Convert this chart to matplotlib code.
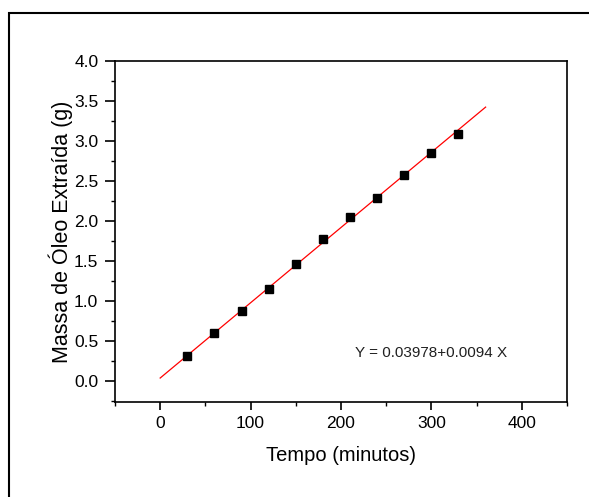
import numpy as np
import matplotlib
matplotlib.use("Agg")
import matplotlib.pyplot as plt
from matplotlib.patches import Rectangle
from matplotlib.ticker import MultipleLocator

# dados
tempo = [30, 60, 90, 120, 150, 180, 210, 240, 270, 300, 330]
massa = [0.32, 0.60, 0.88, 1.15, 1.46, 1.78, 2.05, 2.29, 2.58, 2.85, 3.09]
a, b = 0.03978, 0.0094
fit_x = [0, 360]

plt.rcParams['font.family'] = ['Liberation Sans', 'DejaVu Sans']
plt.rcParams['font.size'] = 12

fig = plt.figure(figsize=(5.89, 4.97), dpi=100)
ax = fig.add_axes([0.1952, 0.1911, 0.7674, 0.6862])

fx = np.array(fit_x, dtype=float)
ax.plot(fx, a + b * fx, color='red', linewidth=0.9, zorder=2)
ax.plot(tempo, massa, 's', color='black', markersize=6, zorder=3)

ax.text(216, 0.35, 'Y = 0.03978+0.0094 X', fontsize=11, color='#202020',
        va='center', ha='left')

ax.set_xlim(-50, 450)
ax.set_ylim(-0.26, 4.0)
ax.xaxis.set_major_locator(MultipleLocator(100))
ax.xaxis.set_minor_locator(MultipleLocator(50))
ax.yaxis.set_major_locator(MultipleLocator(0.5))
ax.yaxis.set_minor_locator(MultipleLocator(0.25))
ax.yaxis.set_major_formatter(matplotlib.ticker.FormatStrFormatter('%.1f'))
ax.tick_params(which='major', direction='out', length=6, width=1.2, pad=4, labelsize=12.5)
ax.tick_params(which='minor', direction='out', length=3, width=1)
ax.tick_params(axis='y', which='major', length=7, pad=5)
for s in ax.spines.values():
    s.set_linewidth(1.2)

ax.set_xlabel('Tempo (minutos)', fontsize=14.5, labelpad=11)
ax.set_ylabel('Massa de Óleo Extraída (g)', fontsize=15.5, labelpad=1)

# moldura externa
fig.patches.append(Rectangle((9/589, -0.1), 1.2, 1 - 13/497 + 0.1,
                             transform=fig.transFigure, fill=False,
                             edgecolor='black', linewidth=1.5))

fig.savefig('out.png', dpi=100)
